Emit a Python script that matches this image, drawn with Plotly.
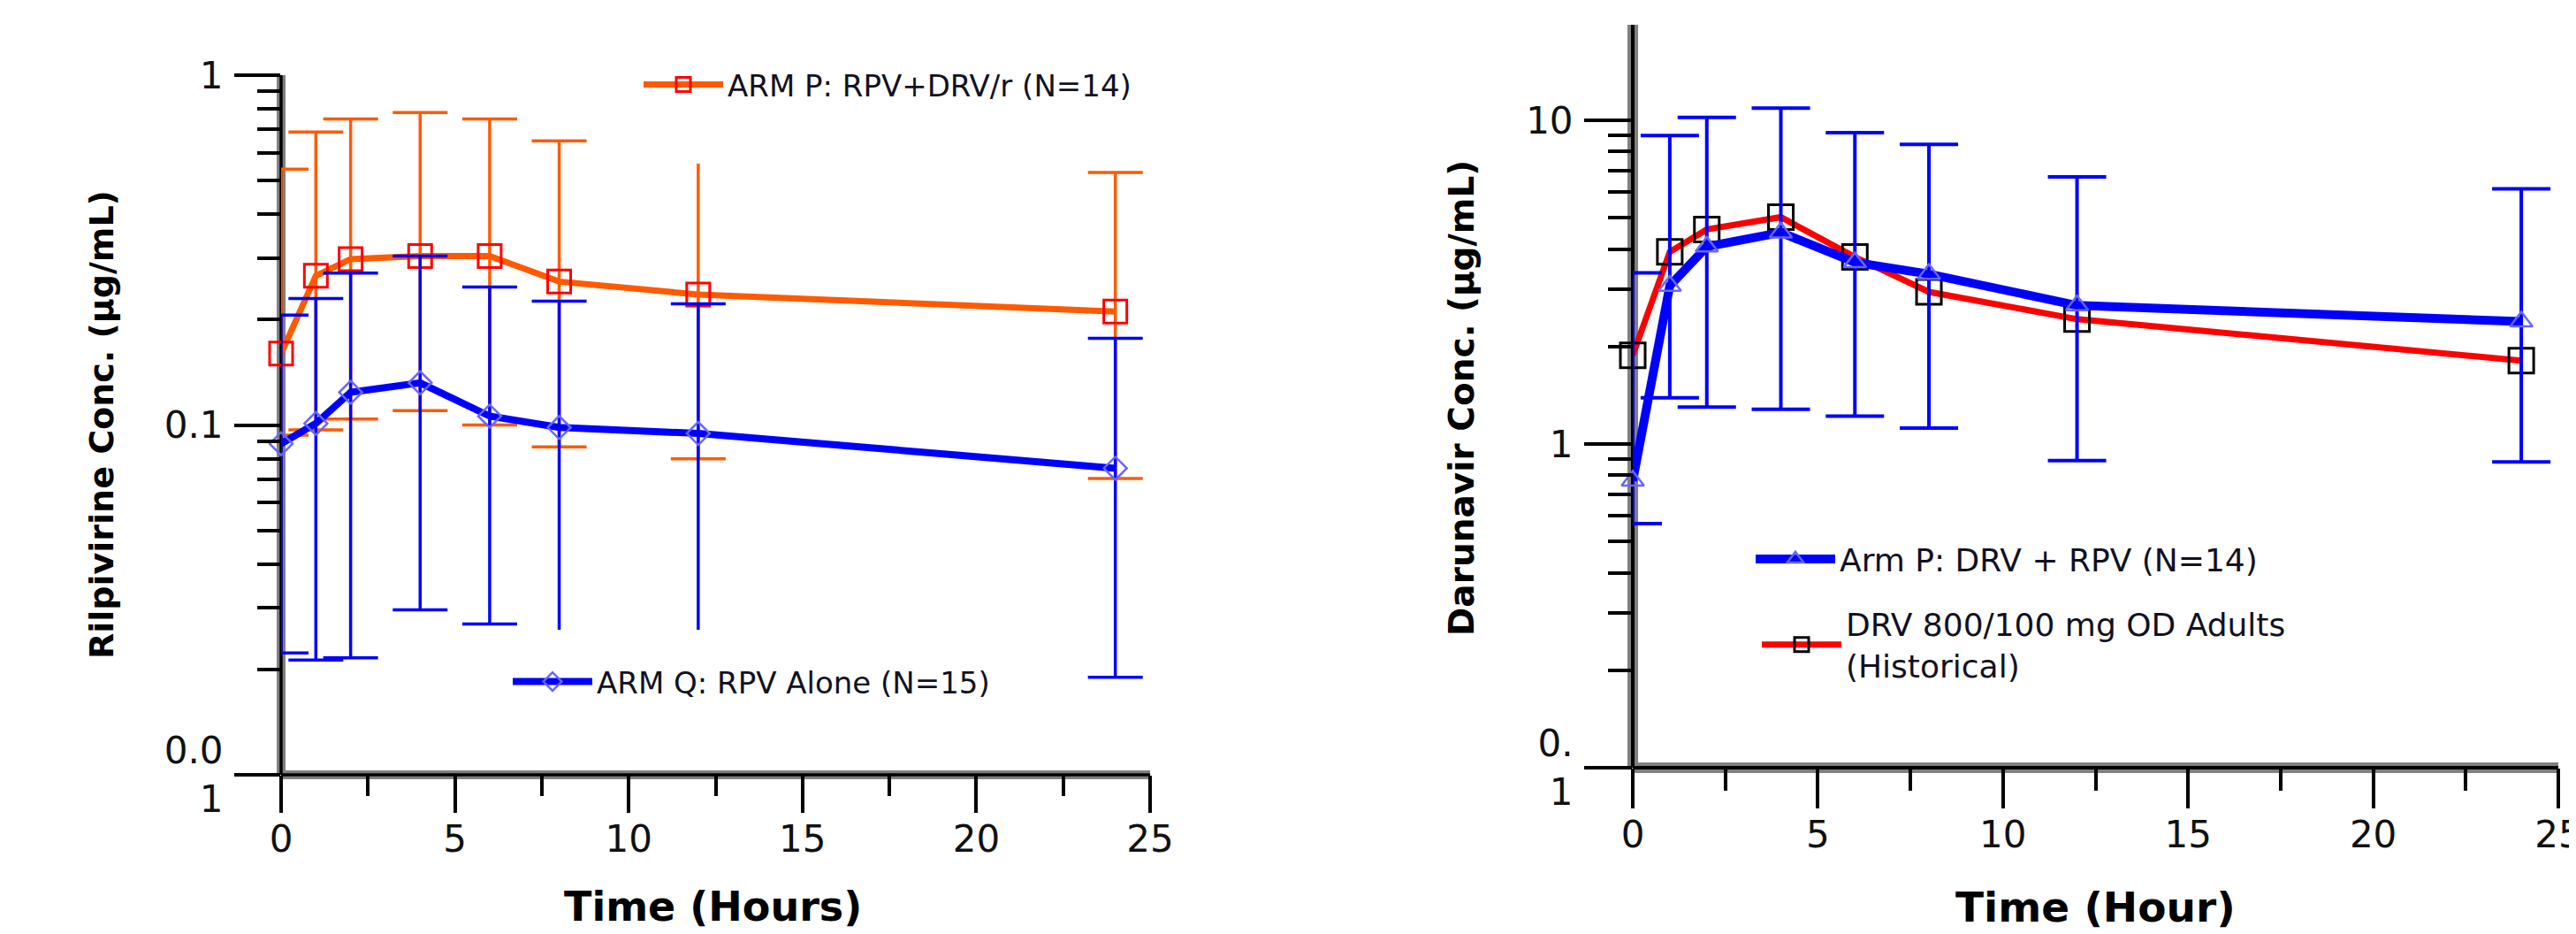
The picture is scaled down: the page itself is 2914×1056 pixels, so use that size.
import plotly.graph_objects as go

# ---------------- data ----------------
time_h = [0, 1, 2, 4, 6, 8, 12, 24]

# Left panel: Rilpivirine (µg/mL)
rpv_armP_mean = [0.160, 0.267, 0.298, 0.304, 0.304, 0.257, 0.236, 0.211]
rpv_armP_upper = [0.539, 0.688, 0.750, 0.782, 0.750, 0.649, 0.559, 0.527]
rpv_armP_lower = [0.0935, 0.0969, 0.104, 0.110, 0.100, 0.0866, 0.080, 0.0703]
rpv_armP_upper_cap = [1, 1, 1, 1, 1, 1, 0, 1]
rpv_armP_lower_cap = [1, 1, 1, 1, 1, 1, 1, 1]

rpv_armQ_mean = [0.0884, 0.101, 0.124, 0.132, 0.106, 0.0984, 0.0946, 0.0752]
rpv_armQ_upper = [0.206, 0.230, 0.272, 0.304, 0.248, 0.226, 0.222, 0.177]
rpv_armQ_lower = [0.0223, 0.0213, 0.0216, 0.0296, 0.0270, 0.026, 0.026, 0.0190]
rpv_armQ_upper_cap = [1, 1, 1, 1, 1, 1, 1, 1]
rpv_armQ_lower_cap = [1, 1, 1, 1, 1, 0, 0, 1]

# Right panel: Darunavir (µg/mL)
drv_armP_mean = [0.77, 3.08, 4.07, 4.50, 3.64, 3.35, 2.68, 2.39]
drv_armP_upper = [3.38, 8.97, 10.2, 10.9, 9.16, 8.42, 6.68, 6.14]
drv_armP_lower = [0.568, 1.39, 1.30, 1.28, 1.22, 1.12, 0.889, 0.881]
drv_armP_upper_cap = [1, 1, 1, 1, 1, 1, 1, 1]
drv_armP_lower_cap = [1, 1, 1, 1, 1, 1, 1, 1]

drv_hist_mean = [1.88, 3.92, 4.60, 5.02, 3.78, 2.95, 2.43, 1.81]

left_yticks = [0.01, 0.1, 1]
left_yticktext = ["0.0<br>1", "0.1", "1"]
right_yticks = [0.1, 1, 10]
right_yticktext = ["0.<br>1", "1", "10"]

names = {
    "rpvP": "ARM P: RPV+DRV/r (N=14)",
    "rpvQ": "ARM Q: RPV Alone (N=15)",
    "drvP": "Arm P: DRV + RPV (N=14)",
    "drvH": "DRV 800/100 mg OD Adults<br>(Historical)",
}

# ---------------- style ----------------
W, H = 2914, 1056
OFF = 8  # page body margin of the browser
FONT = "DejaVu Sans"
ORANGE = "#FF5A00"
BLUE = "#0000FF"
LIGHTBLUE = "#6666FF"
RED = "#FF0000"


def px_x(p):
    return (p - OFF) / W


def px_y(p):
    return 1 - (p - OFF) / H


def err(mean, upper, lower):
    plus = [u - m for u, m in zip(upper, mean)]
    minus = [m - l for m, l in zip(mean, lower)]
    return plus, minus


fig = go.Figure()


def add_series(mean, upper, lower, ucap, lcap, name, line, marker, ecolor,
               ethick, ewidth, xa, ya, legend):
    plus, minus = err(mean, upper, lower)
    # bars (no caps)
    fig.add_trace(go.Scatter(
        x=time_h, y=mean, mode="lines+markers", name=name,
        line=line, marker=marker,
        error_y=dict(type="data", symmetric=False, array=plus, arrayminus=minus,
                     color=ecolor, thickness=ethick, width=0),
        cliponaxis=False, xaxis=xa, yaxis=ya, legend=legend))
    # caps at the bar ends that have them
    cap_y = [u if c else None for u, c in zip(upper, ucap)] + \
            [l if c else None for l, c in zip(lower, lcap)]
    fig.add_trace(go.Scatter(
        x=time_h + time_h, y=cap_y, mode="markers",
        marker=dict(size=1, color="rgba(0,0,0,0)"),
        error_y=dict(type="data", symmetric=True, array=[0] * len(cap_y),
                     color=ecolor, thickness=ethick, width=ewidth),
        showlegend=False, hoverinfo="skip", xaxis=xa, yaxis=ya))


# ---- left panel ----
add_series(rpv_armP_mean, rpv_armP_upper, rpv_armP_lower, rpv_armP_upper_cap,
           rpv_armP_lower_cap, names["rpvP"],
           dict(color=ORANGE, width=7),
           dict(symbol="square-open", size=26, color=RED, line=dict(width=3, color=RED)),
           ORANGE, 3.5, 31, "x", "y", "legend")
add_series(rpv_armQ_mean, rpv_armQ_upper, rpv_armQ_lower, rpv_armQ_upper_cap,
           rpv_armQ_lower_cap, names["rpvQ"],
           dict(color=BLUE, width=8),
           dict(symbol="diamond-open", size=20, color=LIGHTBLUE, line=dict(width=2.5, color=LIGHTBLUE)),
           BLUE, 3.5, 31, "x", "y", "legend2")

# ---- right panel ----
fig.add_trace(go.Scatter(
    x=time_h, y=drv_hist_mean, mode="lines+markers", name=names["drvH"],
    line=dict(color=RED, width=7),
    marker=dict(symbol="square-open", size=28, color="#000000", line=dict(width=3, color="#000000")),
    cliponaxis=False, xaxis="x2", yaxis="y2", legend="legend4"))

add_series(drv_armP_mean, drv_armP_upper, drv_armP_lower, drv_armP_upper_cap,
           drv_armP_lower_cap, names["drvP"],
           dict(color=BLUE, width=10),
           dict(symbol="triangle-up-open", size=22, color=LIGHTBLUE, line=dict(width=2.5, color=LIGHTBLUE)),
           BLUE, 4, 33, "x2", "y2", "legend3")

# ---------------- axes ----------------
tickfont = dict(family=FONT, size=42, color="#111111")

left_minor = [m * 10 ** e for e in (-2, -1) for m in range(2, 10)]
right_minor = [m * 10 ** e for e in (-1, 0) for m in range(2, 10)]

common_x = dict(range=[0, 25], tickmode="linear", tick0=0, dtick=5,
                ticks="outside", tickwidth=3.5, tickcolor="#000000",
                showline=False, showgrid=False, zeroline=False,
                automargin=False, tickfont=tickfont, ticklabelstandoff=-6,
                ticklabeloverflow="allow")

common_y = dict(type="log", tickmode="array", ticks="outside", tickwidth=3.5,
                tickcolor="#000000", showline=False, showgrid=False, zeroline=False,
                automargin=False, tickfont=tickfont, ticklabelstandoff=4,
                ticklabeloverflow="allow")

fig.update_layout(
    xaxis=dict(domain=[px_x(318), px_x(1301)], anchor="y", ticklen=42,
               minor=dict(dtick=2.5, tick0=0, ticks="outside", ticklen=23,
                          tickwidth=3.5, tickcolor="#000000", showgrid=False),
               **common_x),
    yaxis=dict(domain=[px_y(876), px_y(85)], anchor="x", range=[-2, 0],
               tickvals=left_yticks, ticktext=left_yticktext, ticklen=52,
               minor=dict(tickmode="array", tickvals=left_minor, ticks="outside",
                          ticklen=26, tickwidth=3.5, tickcolor="#000000", showgrid=False),
               **common_y),
    xaxis2=dict(domain=[px_x(1847), px_x(2894)], anchor="y2", ticklen=45,
                minor=dict(dtick=2.5, tick0=0, ticks="outside", ticklen=25,
                           tickwidth=3.5, tickcolor="#000000", showgrid=False),
                **common_x),
    yaxis2=dict(domain=[px_y(868), px_y(28)], anchor="x2", range=[-1, 1.295],
                tickvals=right_yticks, ticktext=right_yticktext, ticklen=54,
                minor=dict(tickmode="array", tickvals=right_minor, ticks="outside",
                           ticklen=27, tickwidth=3.5, tickcolor="#000000", showgrid=False),
                **common_y),
)

# axis lines: grey band with black core
shapes = []
for xr, yr, gw, bw in (("x domain", "y domain", 10, 3.5), ("x2 domain", "y2 domain", 12, 4)):
    for col, wd in (("#808080", gw), ("#000000", bw)):
        shapes.append(dict(type="line", xref=xr, yref=yr, x0=0, x1=1, y0=0, y1=0,
                           line=dict(color=col, width=wd), layer="below"))
        shapes.append(dict(type="line", xref=xr, yref=yr, x0=0, x1=0, y0=0, y1=1,
                           line=dict(color=col, width=wd), layer="below"))

# axis titles
annotations = [
    dict(text="Rilpivirine Conc. (µg/mL)", textangle=-90, xref="paper", yref="paper",
         x=px_x(115), y=px_y(480), showarrow=False, xanchor="center", yanchor="middle",
         font=dict(family=FONT, size=38, color="#000000", weight="bold")),
    dict(text="Darunavir Conc. (µg/mL)", textangle=-90, xref="paper", yref="paper",
         x=px_x(1653), y=px_y(450), showarrow=False, xanchor="center", yanchor="middle",
         font=dict(family=FONT, size=39, color="#000000", weight="bold")),
    dict(text="Time (Hours)", xref="paper", yref="paper", x=px_x(806), y=px_y(1025),
         showarrow=False, xanchor="center", yanchor="middle",
         font=dict(family=FONT, size=46, color="#000000", weight="bold")),
    dict(text="Time (Hour)", xref="paper", yref="paper", x=px_x(2370), y=px_y(1025),
         showarrow=False, xanchor="center", yanchor="middle",
         font=dict(family=FONT, size=47, color="#000000", weight="bold")),
]

leg_common = dict(bgcolor="rgba(0,0,0,0)", borderwidth=0,
                  xanchor="left", yanchor="middle", itemwidth=90, itemclick=False)
left_leg_font = dict(family=FONT, size=34, color="#111122")
right_leg_font = dict(family=FONT, size=36, color="#111122")

fig.update_layout(
    width=W, height=H,
    margin=dict(l=0, r=0, t=0, b=0, autoexpand=False),
    paper_bgcolor="#FFFFFF", plot_bgcolor="#FFFFFF",
    shapes=shapes, annotations=annotations,
    showlegend=True,
    legend=dict(x=px_x(723), y=px_y(96), font=left_leg_font, **leg_common),
    legend2=dict(x=px_x(575), y=px_y(771), font=left_leg_font, **leg_common),
    legend3=dict(x=px_x(1981), y=px_y(632), font=right_leg_font, **leg_common),
    legend4=dict(x=px_x(1988), y=px_y(729), font=right_leg_font, **leg_common),
)

fig.write_html("out.html")
